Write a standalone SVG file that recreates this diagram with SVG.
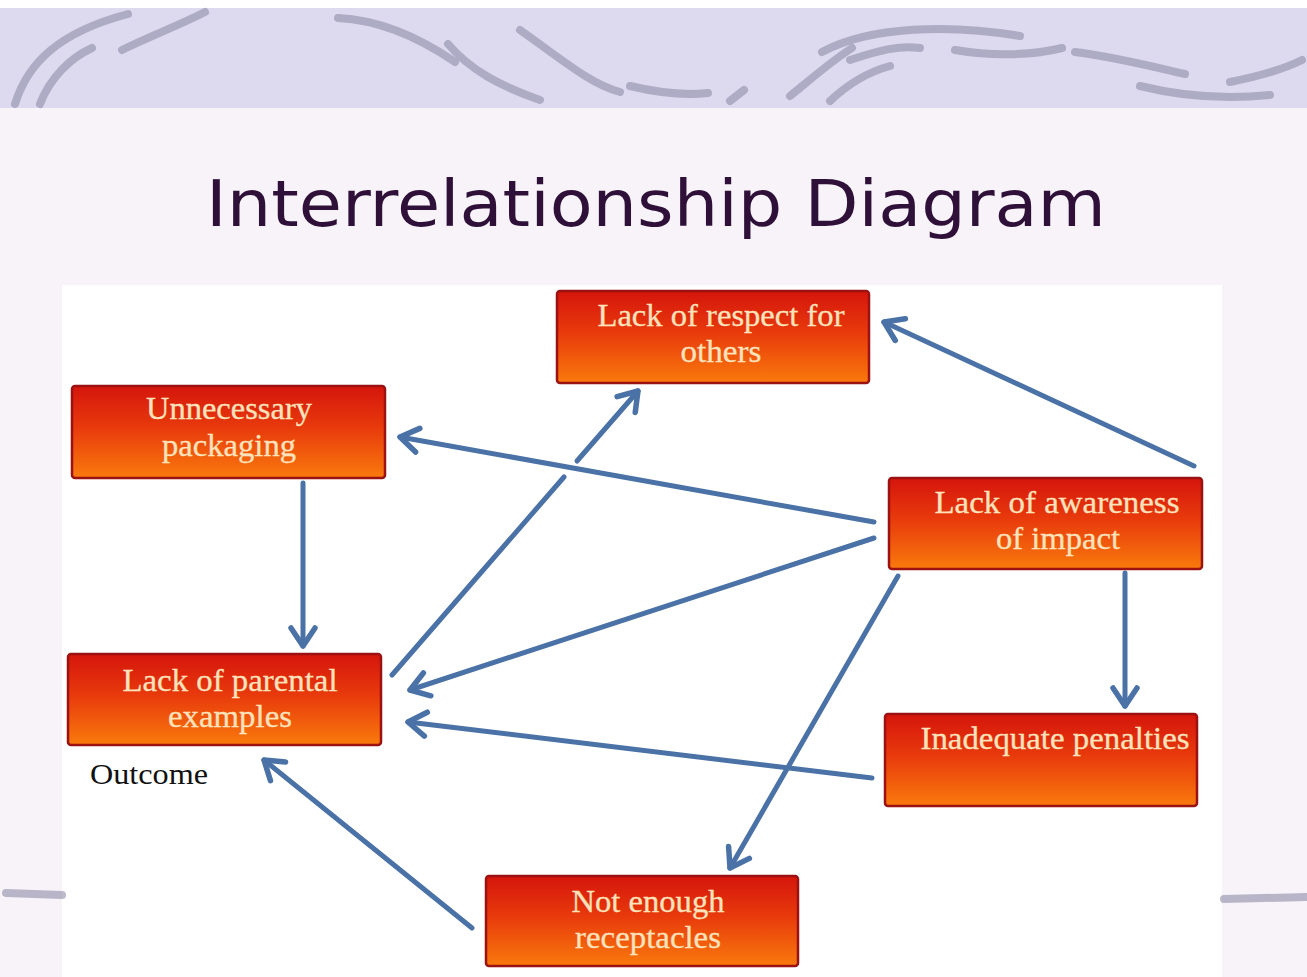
<svg xmlns="http://www.w3.org/2000/svg" width="1307" height="977" viewBox="0 0 1307 977">
<defs>
<linearGradient id="boxGrad" x1="0" y1="0" x2="0" y2="1">
<stop offset="0" stop-color="#d5150c"/>
<stop offset="0.45" stop-color="#e83a0c"/>
<stop offset="1" stop-color="#f97a0c"/>
</linearGradient>
<marker id="arrow" markerUnits="userSpaceOnUse" markerWidth="30" markerHeight="30" viewBox="0 0 30 30" refX="26" refY="15" orient="auto">
<path d="M8,3 L26,15 L8,27" fill="none" stroke="#4a72a6" stroke-width="5.5" stroke-linecap="round" stroke-linejoin="round"/>
</marker>
</defs>
<style>
.box{fill:url(#boxGrad);stroke:#9c1212;stroke-width:2.5}
.lbl{font-family:"Liberation Serif","Times New Roman",serif;font-size:31px;fill:#fde2bc;stroke:#fde2bc;stroke-width:0.3;text-anchor:middle}
.conn{stroke:#4a72a6;stroke-width:5;fill:none;stroke-linecap:round}
.swoosh{fill:none;stroke:#8f8ca8;stroke-width:8;stroke-linecap:round;opacity:0.6}
</style>

<!-- background -->
<rect x="0" y="0" width="1307" height="977" fill="#f7f3f8"/>
<rect x="0" y="0" width="1307" height="108" fill="#dddaef"/>
<rect x="0" y="0" width="1307" height="8" fill="#ffffff"/>
<g id="top-swooshes">
<path class="swoosh" d="M15,104 C28,62 60,32 128,14"/>
<path class="swoosh" d="M40,104 C50,78 70,58 92,48"/>
<path class="swoosh" d="M122,50 C150,36 180,25 205,12"/>
<path class="swoosh" d="M338,18 C380,20 420,38 455,62"/>
<path class="swoosh" d="M448,44 C470,70 500,86 540,100"/>
<path class="swoosh" d="M520,30 C560,58 590,84 620,92"/>
<path class="swoosh" d="M630,86 C655,92 680,96 708,93"/>
<path class="swoosh" d="M730,101 L744,90"/>
<path class="swoosh" d="M790,96 C810,80 830,62 852,48"/>
<path class="swoosh" d="M830,101 C848,84 868,72 890,66"/>
<path class="swoosh" d="M822,52 C870,26 950,24 1020,36"/>
<path class="swoosh" d="M850,60 C880,50 900,45 920,48"/>
<path class="swoosh" d="M955,50 C990,56 1030,56 1062,48"/>
<path class="swoosh" d="M1075,52 C1110,56 1150,66 1185,74"/>
<path class="swoosh" d="M1140,86 C1180,96 1220,100 1270,95"/>
<path class="swoosh" d="M1230,82 C1260,76 1282,70 1302,60"/>
</g>
<rect x="62" y="285" width="1160" height="692" fill="#ffffff"/>
<path class="swoosh" d="M6,893 L62,895"/>
<path class="swoosh" d="M1224,899 L1307,897"/>

<text x="656" y="226" font-family="'DejaVu Sans',Verdana,sans-serif" font-size="64" fill="#2e1038" text-anchor="middle" textLength="900" lengthAdjust="spacingAndGlyphs">Interrelationship Diagram</text>

<g id="connectors">
<line class="conn" x1="1194" y1="466" x2="884" y2="322" marker-end="url(#arrow)"/>
<line class="conn" x1="874" y1="522" x2="400" y2="437" marker-end="url(#arrow)"/>
<line class="conn" x1="874" y1="538" x2="410" y2="690" marker-end="url(#arrow)"/>
<line class="conn" x1="1125" y1="573" x2="1125" y2="706" marker-end="url(#arrow)"/>
<line class="conn" x1="898" y1="576" x2="730" y2="868" marker-end="url(#arrow)"/>
<line class="conn" x1="872" y1="778" x2="408" y2="722" marker-end="url(#arrow)"/>
<line class="conn" x1="472" y1="928" x2="264" y2="760" marker-end="url(#arrow)"/>
<line class="conn" x1="392" y1="675" x2="564" y2="477"/>
<line class="conn" x1="577" y1="461" x2="638" y2="391" marker-end="url(#arrow)"/>
<line class="conn" x1="303" y1="483" x2="303" y2="646" marker-end="url(#arrow)"/>
</g>

<g id="node-respect">
<rect class="box" x="557" y="291" width="312" height="92" rx="3"/>
<text class="lbl" x="721" y="326" textLength="247" lengthAdjust="spacingAndGlyphs">Lack of respect for</text>
<text class="lbl" x="721" y="362" textLength="81" lengthAdjust="spacingAndGlyphs">others</text>
</g>
<g id="node-packaging">
<rect class="box" x="72" y="386" width="313" height="92" rx="3"/>
<text class="lbl" x="229" y="419" textLength="166" lengthAdjust="spacingAndGlyphs">Unnecessary</text>
<text class="lbl" x="229" y="456" textLength="134" lengthAdjust="spacingAndGlyphs">packaging</text>
</g>
<g id="node-awareness">
<rect class="box" x="889" y="478" width="313" height="91" rx="3"/>
<text class="lbl" x="1057" y="513" textLength="245" lengthAdjust="spacingAndGlyphs">Lack of awareness</text>
<text class="lbl" x="1058" y="549" textLength="124" lengthAdjust="spacingAndGlyphs">of impact</text>
</g>
<g id="node-parental">
<rect class="box" x="68" y="654" width="313" height="91" rx="3"/>
<text class="lbl" x="230" y="691" textLength="215" lengthAdjust="spacingAndGlyphs">Lack of parental</text>
<text class="lbl" x="230" y="727" textLength="124" lengthAdjust="spacingAndGlyphs">examples</text>
</g>
<g id="node-penalties">
<rect class="box" x="885" y="714" width="312" height="92" rx="3"/>
<text class="lbl" x="1055" y="749" textLength="269" lengthAdjust="spacingAndGlyphs">Inadequate penalties</text>
</g>
<g id="node-receptacles">
<rect class="box" x="486" y="876" width="312" height="90" rx="3"/>
<text class="lbl" x="648" y="912" textLength="153" lengthAdjust="spacingAndGlyphs">Not enough</text>
<text class="lbl" x="648" y="948" textLength="146" lengthAdjust="spacingAndGlyphs">receptacles</text>
</g>
<g id="label-outcome">
<text x="90" y="784" font-family="'Liberation Serif','Times New Roman',serif" font-size="29" fill="#111111" textLength="118" lengthAdjust="spacingAndGlyphs">Outcome</text>
</g>
</svg>
